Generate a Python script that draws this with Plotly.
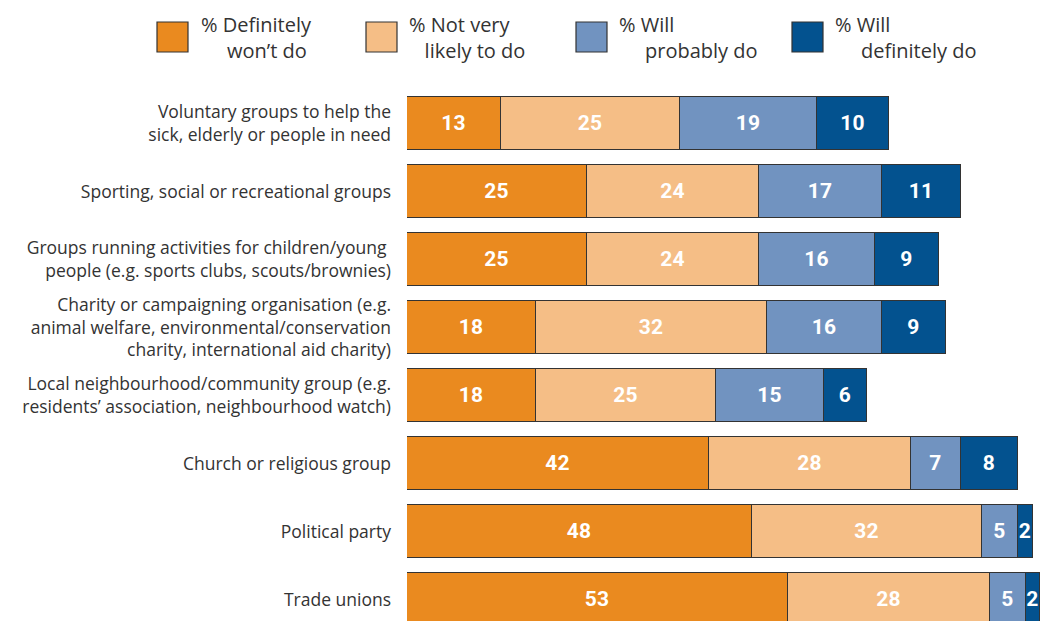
import plotly.graph_objects as go

# Survey categories (top to bottom)
categories = [
    "Voluntary groups to help the<br>sick, elderly or people in need",
    "Sporting, social or recreational groups",
    "Groups running activities for children/young <br>people (e.g. sports clubs, scouts/brownies)",
    "Charity or campaigning organisation (e.g.<br>animal welfare, environmental/conservation<br>charity, international aid charity)",
    "Local neighbourhood/community group (e.g.<br>residents’ association, neighbourhood watch)",
    "Church or religious group",
    "Political party",
    "Trade unions",
]

definitely_wont = [13, 25, 25, 18, 18, 42, 48, 53]
not_very_likely = [25, 24, 24, 32, 25, 28, 32, 28]
will_probably = [19, 17, 16, 16, 15, 7, 5, 5]
will_definitely = [10, 11, 9, 9, 6, 8, 2, 2]

series_names = ["% Definitely<br>won’t do", "% Not very<br>likely to do",
                "% Will<br>probably do", "% Will<br>definitely do"]
series_values = [definitely_wont, not_very_likely, will_probably, will_definitely]
colors = ["#EA8A1F", "#F5BE86", "#7193C0", "#03528F"]

LABEL_FONT = "'Open Sans', 'Noto Sans', sans-serif"
rows = list(range(len(categories)))

fig = go.Figure()
for name, vals, col in zip(series_names, series_values, colors):
    fig.add_trace(go.Bar(
        y=rows, x=vals, orientation="h", name=name,
        marker=dict(color=col, line=dict(color="#333333", width=1.2)),
        width=0.78,
        text=[str(v) for v in vals],
        textposition="inside", insidetextanchor="middle", textangle=0,
        textfont=dict(family="Roboto, sans-serif", size=21, color="white", weight="bold"),
        hoverinfo="skip",
    ))

fig.update_layout(
    barmode="stack",
    width=1040, height=621,
    margin=dict(l=407, r=0, t=90, b=0),
    paper_bgcolor="white", plot_bgcolor="white",
    showlegend=False,
    uniformtext=dict(minsize=21, mode="show"),
    bargap=0,
)
fig.update_xaxes(range=[0, 88.0], visible=False, fixedrange=True)
fig.update_yaxes(
    range=[7.316, -0.4926], tickmode="array", tickvals=rows, ticktext=categories,
    showgrid=False, zeroline=False, showline=False, ticks="",
    ticklabelstandoff=15,
    tickfont=dict(family=LABEL_FONT, size=17.5, color="#333333"),
    automargin=False,
)

# Legend drawn as swatches with two-line captions (second line indented)
NB = "\u00a0"
legend_items = [
    (157, 200, 5),
    (366, 408, 3),
    (576, 618, 5),
    (792, 834, 5),
]
for (sx, tx, indent), name, col in zip(legend_items, series_names, colors):
    first, second = name.split("<br>")
    fig.add_shape(type="rect", xref="paper", yref="paper",
                  x0=(sx - 407) / 633, x1=(sx + 31 - 407) / 633,
                  y0=(621 - 52) / 531, y1=(621 - 22) / 531,
                  fillcolor=col, line=dict(color="#333333", width=1.2))
    fig.add_annotation(xref="paper", yref="paper",
                       x=(tx - 407) / 633, y=(621 - 37) / 531,
                       xanchor="left", yanchor="middle", align="left",
                       showarrow=False, borderpad=0,
                       text=first + "<br>" + NB * indent + second,
                       font=dict(family=LABEL_FONT, size=20, color="#333333"))

fig.write_html("out.html")
